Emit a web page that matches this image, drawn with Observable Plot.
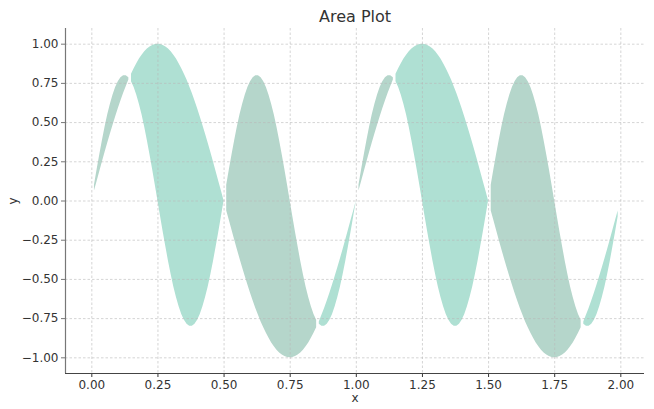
<!DOCTYPE html>
<html><head><meta charset="utf-8">
<script src="https://cdn.jsdelivr.net/npm/d3@7"></script>
<script src="https://cdn.jsdelivr.net/npm/@observablehq/plot@0.6"></script>
<style>body{margin:0;background:#fff;}</style>
</head><body><div id="chart"></div>
<script>
const title = "Area Plot";
const xs = [
0,0.01,0.02,0.03,0.04,0.05,0.06,0.07,0.08,0.09,
0.1,0.11,0.12,0.13,0.14,0.15,0.16,0.17,0.18,0.19,
0.2,0.21,0.22,0.23,0.24,0.25,0.26,0.27,0.28,0.29,
0.3,0.31,0.32,0.33,0.34,0.35,0.36,0.37,0.38,0.39,
0.4,0.41,0.42,0.43,0.44,0.45,0.46,0.47,0.48,0.49,
0.5,0.51,0.52,0.53,0.54,0.55,0.56,0.57,0.58,0.59,
0.6,0.61,0.62,0.63,0.64,0.65,0.66,0.67,0.68,0.69,
0.7,0.71,0.72,0.73,0.74,0.75,0.76,0.77,0.78,0.79,
0.8,0.81,0.82,0.83,0.84,0.85,0.86,0.87,0.88,0.89,
0.9,0.91,0.92,0.93,0.94,0.95,0.96,0.97,0.98,0.99,
1,1.01,1.02,1.03,1.04,1.05,1.06,1.07,1.08,1.09,
1.1,1.11,1.12,1.13,1.14,1.15,1.16,1.17,1.18,1.19,
1.2,1.21,1.22,1.23,1.24,1.25,1.26,1.27,1.28,1.29,
1.3,1.31,1.32,1.33,1.34,1.35,1.36,1.37,1.38,1.39,
1.4,1.41,1.42,1.43,1.44,1.45,1.46,1.47,1.48,1.49,
1.5,1.51,1.52,1.53,1.54,1.55,1.56,1.57,1.58,1.59,
1.6,1.61,1.62,1.63,1.64,1.65,1.66,1.67,1.68,1.69,
1.7,1.71,1.72,1.73,1.74,1.75,1.76,1.77,1.78,1.79,
1.8,1.81,1.82,1.83,1.84,1.85,1.86,1.87,1.88,1.89,
1.9,1.91,1.92,1.93,1.94,1.95,1.96,1.97,1.98,1.99];
const yA = [
0,0.063,0.125,0.187,0.249,0.309,0.368,0.426,0.482,0.536,
0.588,0.637,0.685,0.729,0.771,0.809,0.844,0.876,0.905,0.930,
0.951,0.969,0.982,0.992,0.998,1,0.998,0.992,0.982,0.969,
0.951,0.930,0.905,0.876,0.844,0.809,0.771,0.729,0.685,0.637,
0.588,0.536,0.482,0.426,0.368,0.309,0.249,0.187,0.125,0.063,
0,-0.063,-0.125,-0.187,-0.249,-0.309,-0.368,-0.426,-0.482,-0.536,
-0.588,-0.637,-0.685,-0.729,-0.771,-0.809,-0.844,-0.876,-0.905,-0.930,
-0.951,-0.969,-0.982,-0.992,-0.998,-1,-0.998,-0.992,-0.982,-0.969,
-0.951,-0.930,-0.905,-0.876,-0.844,-0.809,-0.771,-0.729,-0.685,-0.637,
-0.588,-0.536,-0.482,-0.426,-0.368,-0.309,-0.249,-0.187,-0.125,-0.063,
0,0.063,0.125,0.187,0.249,0.309,0.368,0.426,0.482,0.536,
0.588,0.637,0.685,0.729,0.771,0.809,0.844,0.876,0.905,0.930,
0.951,0.969,0.982,0.992,0.998,1,0.998,0.992,0.982,0.969,
0.951,0.930,0.905,0.876,0.844,0.809,0.771,0.729,0.685,0.637,
0.588,0.536,0.482,0.426,0.368,0.309,0.249,0.187,0.125,0.063,
0,-0.063,-0.125,-0.187,-0.249,-0.309,-0.368,-0.426,-0.482,-0.536,
-0.588,-0.637,-0.685,-0.729,-0.771,-0.809,-0.844,-0.876,-0.905,-0.930,
-0.951,-0.969,-0.982,-0.992,-0.998,-1,-0.998,-0.992,-0.982,-0.969,
-0.951,-0.930,-0.905,-0.876,-0.844,-0.809,-0.771,-0.729,-0.685,-0.637,
-0.588,-0.536,-0.482,-0.426,-0.368,-0.309,-0.249,-0.187,-0.125,-0.063];
const yB = [
0,0.100,0.199,0.294,0.385,0.470,0.548,0.616,0.675,0.724,
0.761,0.786,0.798,0.798,0.786,0.761,0.724,0.675,0.616,0.548,
0.470,0.385,0.294,0.199,0.100,0,-0.100,-0.199,-0.294,-0.385,
-0.470,-0.548,-0.616,-0.675,-0.724,-0.761,-0.786,-0.798,-0.798,-0.786,
-0.761,-0.724,-0.675,-0.616,-0.548,-0.470,-0.385,-0.294,-0.199,-0.100,
0,0.100,0.199,0.294,0.385,0.470,0.548,0.616,0.675,0.724,
0.761,0.786,0.798,0.798,0.786,0.761,0.724,0.675,0.616,0.548,
0.470,0.385,0.294,0.199,0.100,0,-0.100,-0.199,-0.294,-0.385,
-0.470,-0.548,-0.616,-0.675,-0.724,-0.761,-0.786,-0.798,-0.798,-0.786,
-0.761,-0.724,-0.675,-0.616,-0.548,-0.470,-0.385,-0.294,-0.199,-0.100,
0,0.100,0.199,0.294,0.385,0.470,0.548,0.616,0.675,0.724,
0.761,0.786,0.798,0.798,0.786,0.761,0.724,0.675,0.616,0.548,
0.470,0.385,0.294,0.199,0.100,0,-0.100,-0.199,-0.294,-0.385,
-0.470,-0.548,-0.616,-0.675,-0.724,-0.761,-0.786,-0.798,-0.798,-0.786,
-0.761,-0.724,-0.675,-0.616,-0.548,-0.470,-0.385,-0.294,-0.199,-0.100,
0,0.100,0.199,0.294,0.385,0.470,0.548,0.616,0.675,0.724,
0.761,0.786,0.798,0.798,0.786,0.761,0.724,0.675,0.616,0.548,
0.470,0.385,0.294,0.199,0.100,0,-0.100,-0.199,-0.294,-0.385,
-0.470,-0.548,-0.616,-0.675,-0.724,-0.761,-0.786,-0.798,-0.798,-0.786,
-0.761,-0.724,-0.675,-0.616,-0.548,-0.470,-0.385,-0.294,-0.199,-0.100];
const xTicks = [0, 0.25, 0.5, 0.75, 1, 1.25, 1.5, 1.75, 2];
const yTicks = [-1, -0.75, -0.5, -0.25, 0, 0.25, 0.5, 0.75, 1];
const xDomain = [-0.0995, 2.0895];
const yDomain = [-1.1, 1.1];

const rows = xs.map((x, i) => ({x, a: yA[i], b: yB[i]}));
const upper = rows.map(d => d.a >= d.b ? d : {x: d.x, a: NaN, b: NaN});
const lower = rows.map(d => d.a < d.b ? d : {x: d.x, a: NaN, b: NaN});
const fmt = d3.format(".2f");
const gridStyle = {stroke: "#b8b8b8", strokeOpacity: 0.75, strokeDasharray: "2.5,2", strokeWidth: 0.8};

const plot = Plot.plot({
  width: 654, height: 409,
  marginTop: 28, marginRight: 10, marginBottom: 36, marginLeft: 65,
  style: {fontFamily: "DejaVu Sans", fontSize: "12px", color: "#333", background: "#fff"},
  x: {domain: xDomain},
  y: {domain: yDomain},
  marks: [
    Plot.areaY(upper, {x: "x", y1: "a", y2: "b", fill: "#afe0d3"}),
    Plot.areaY(lower, {x: "x", y1: "a", y2: "b", fill: "#b5d6cb"}),
    Plot.gridX(xTicks, gridStyle),
    Plot.gridY(yTicks, gridStyle),
    Plot.axisX(xTicks, {tickFormat: fmt, tickSize: 4, tickPadding: 3, fontSize: 12, label: "x", labelAnchor: "center", labelArrow: "none", labelOffset: 28}),
    Plot.axisY(yTicks, {tickFormat: fmt, tickSize: 4, tickPadding: 3, fontSize: 12, label: "y", labelAnchor: "center", labelArrow: "none", labelOffset: 57, stroke: "#777"}),
    Plot.ruleX([xDomain[0]], {stroke: "#777", strokeWidth: 1.2}),
    Plot.ruleY([yDomain[0]], {stroke: "#444", strokeWidth: 1.2}),
    Plot.text([title], {frameAnchor: "top", dy: -12, lineAnchor: "middle", fontSize: 16, fill: "#333"})
  ]
});
document.getElementById("chart").appendChild(plot);
</script>
</body></html>
